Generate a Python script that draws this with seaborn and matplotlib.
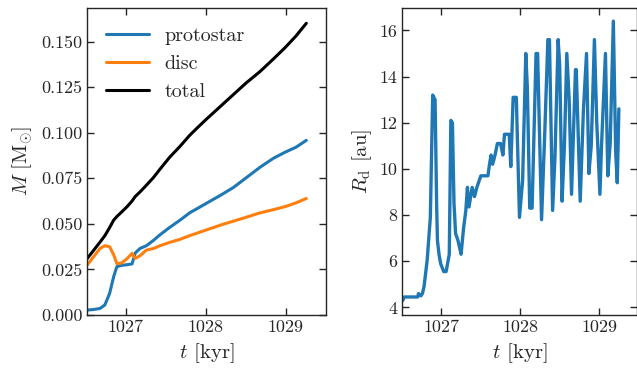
import numpy as np
import pandas as pd
import matplotlib
matplotlib.use('Agg')
import matplotlib.pyplot as plt
import seaborn as sns

# mass evolution
t_mass = [1026.52, 1026.60, 1026.68, 1026.74, 1026.80, 1026.85, 1026.89, 1026.95,
          1027.02, 1027.08, 1027.12, 1027.18, 1027.26, 1027.35, 1027.43, 1027.55,
          1027.68, 1027.80, 1027.90, 1028.00, 1028.10, 1028.20, 1028.35, 1028.50,
          1028.68, 1028.85, 1029.00, 1029.13, 1029.26]
m_protostar = [0.0027, 0.0030, 0.0036, 0.0055, 0.0119, 0.0210, 0.0265, 0.0272,
               0.0276, 0.0280, 0.0340, 0.0365, 0.0380, 0.0410, 0.0440, 0.0480,
               0.0520, 0.0560, 0.0585, 0.0610, 0.0635, 0.0660, 0.0700, 0.0750,
               0.0810, 0.0860, 0.0894, 0.0920, 0.0958]
m_disc = [0.0274, 0.0320, 0.0365, 0.0380, 0.0374, 0.0330, 0.0282, 0.0285,
          0.0310, 0.0338, 0.0310, 0.0325, 0.0356, 0.0365, 0.0380, 0.0398,
          0.0415, 0.0435, 0.0450, 0.0465, 0.0480, 0.0495, 0.0515, 0.0535,
          0.0560, 0.0578, 0.0595, 0.0615, 0.0639]
m_total = [0.0310, 0.0355, 0.0400, 0.0435, 0.0480, 0.0520, 0.0540, 0.0565,
           0.0595, 0.0625, 0.0650, 0.0675, 0.0712, 0.0755, 0.0800, 0.0865,
           0.0925, 0.0985, 0.1028, 0.1070, 0.1110, 0.1150, 0.1210, 0.1270,
           0.1335, 0.1405, 0.1469, 0.1530, 0.1600]

# disc radius
t_rd = [1026.49, 1026.51, 1026.53, 1026.70, 1026.71, 1026.74, 1026.76, 1026.78,
        1026.82, 1026.86, 1026.89, 1026.92, 1026.94, 1026.95, 1026.97, 1026.99,
        1027.03, 1027.06, 1027.10, 1027.12, 1027.14, 1027.16, 1027.18, 1027.21,
        1027.23, 1027.25, 1027.28, 1027.31, 1027.33, 1027.35, 1027.39, 1027.42,
        1027.45, 1027.50, 1027.59, 1027.61, 1027.63, 1027.65, 1027.68, 1027.71,
        1027.75, 1027.78, 1027.80, 1027.86, 1027.88, 1027.91, 1027.95, 1027.99,
        1028.03, 1028.07, 1028.09, 1028.12, 1028.15, 1028.20, 1028.22, 1028.27,
        1028.31, 1028.35, 1028.37, 1028.41, 1028.44, 1028.48, 1028.50, 1028.53,
        1028.56, 1028.59, 1028.62, 1028.65, 1028.70, 1028.71, 1028.76, 1028.80,
        1028.84, 1028.87, 1028.90, 1028.94, 1028.97, 1029.01, 1029.03, 1029.05,
        1029.08, 1029.11, 1029.14, 1029.18, 1029.21, 1029.23, 1029.25]
r_disc = [4.4, 4.3, 4.45, 4.45, 4.6, 4.5, 4.6, 4.9,
          6.05, 7.9, 13.2, 13.0, 8.4, 6.9, 6.3, 5.9,
          5.55, 5.55, 6.3, 12.1, 12.0, 8.5, 7.2, 6.9,
          6.6, 6.3, 7.4, 8.2, 9.2, 8.35, 9.2, 8.8,
          9.2, 9.7, 9.7, 10.2, 10.6, 10.2, 10.6, 11.1,
          11.1, 10.6, 11.5, 11.5, 10.1, 13.1, 13.1, 7.9,
          9.5, 15.0, 13.5, 8.3, 8.3, 15.0, 15.0, 7.8,
          11.5, 15.6, 15.6, 8.2, 10.5, 15.6, 14.5, 8.6,
          11.0, 15.0, 13.0, 8.9, 14.3, 14.3, 8.6, 12.5,
          15.0, 9.8, 11.0, 15.6, 12.0, 8.9, 11.0, 12.6,
          15.0, 9.7, 11.1, 16.4, 10.7, 9.4, 12.6]

df_m = pd.DataFrame({'t': t_mass * 3,
                     'M': m_protostar + m_disc + m_total,
                     'comp': ['protostar'] * len(t_mass) + ['disc'] * len(t_mass)
                             + ['total'] * len(t_mass)})
df_r = pd.DataFrame({'t': t_rd, 'R': r_disc})

sns.set_style('ticks')
plt.rcParams['font.family'] = ['cmr10', 'DejaVu Serif']
plt.rcParams['mathtext.fontset'] = 'cm'
plt.rcParams['axes.unicode_minus'] = False
plt.rcParams['axes.formatter.use_mathtext'] = True

fig = plt.figure(figsize=(6.37, 3.71), dpi=100)
ax1 = fig.add_axes([0.137, 0.151, 0.374, 0.828])
ax2 = fig.add_axes([0.631, 0.151, 0.369, 0.828])

sns.lineplot(data=df_m, x='t', y='M', hue='comp',
             palette={'protostar': '#1f77b4', 'disc': '#ff7f0e', 'total': 'black'},
             lw=2.2, ax=ax1, sort=False, estimator=None)
ax1.set_xlim(1026.52, 1029.5)
ax1.set_ylim(0, 0.1685)
ax1.set_yticks([0, 0.025, 0.05, 0.075, 0.1, 0.125, 0.15])
ax1.set_yticklabels(['0.000', '0.025', '0.050', '0.075', '0.100', '0.125', '0.150'])
ax1.set_xticks([1027, 1028, 1029])
ax1.set_xticklabels(['1027', '1028', '1029'])
ax1.set_xlabel(r'$t$ [kyr]', fontsize=15)
ax1.set_ylabel(r'$M\ [\mathrm{M}_{\odot}]$', fontsize=15)
leg = ax1.legend(loc='upper left', frameon=False, fontsize=14.5, handlelength=2.1,
                 borderaxespad=0.5, labelspacing=0.5, handletextpad=0.8,
                 borderpad=0.45)
for h in leg.get_lines():
    h.set_linewidth(2.2)

sns.lineplot(data=df_r, x='t', y='R', color='#1f77b4', lw=2.4, ax=ax2,
             sort=False, estimator=None)
ax2.set_xlim(1026.5, 1029.48)
ax2.set_ylim(3.67, 16.98)
ax2.set_yticks([4, 6, 8, 10, 12, 14, 16])
ax2.set_yticklabels(['4', '6', '8', '10', '12', '14', '16'])
ax2.set_xticks([1027, 1028, 1029])
ax2.set_xticklabels(['1027', '1028', '1029'])
ax2.set_xlabel(r'$t$ [kyr]', fontsize=15)
ax2.set_ylabel(r'$R_{\mathrm{d}}$ [au]', fontsize=15)

for ax in (ax1, ax2):
    ax.tick_params(direction='in', top=True, right=True, length=5, width=1,
                   labelsize=13)
    for s in ax.spines.values():
        s.set_linewidth(1)

fig.savefig('out.png', dpi=100)
